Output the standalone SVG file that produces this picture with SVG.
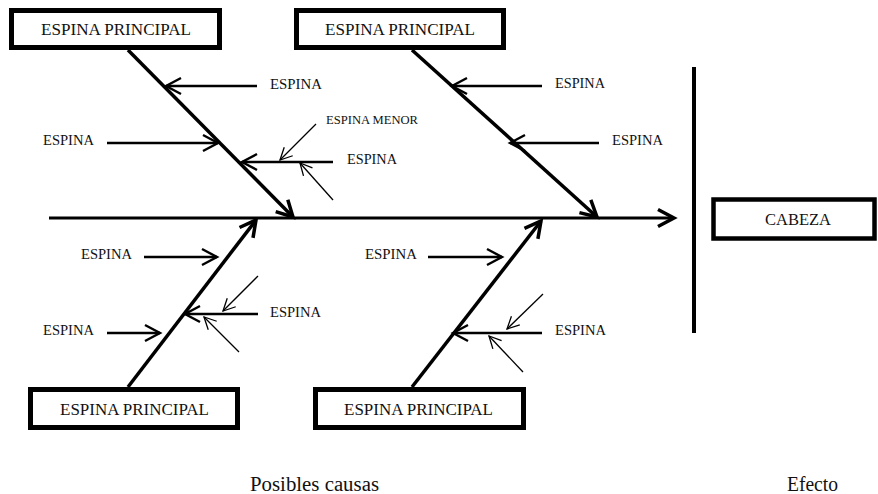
<svg xmlns="http://www.w3.org/2000/svg" width="878" height="494" viewBox="0 0 878 494">
  <style>
    text { font-family: "Liberation Serif", "Times New Roman", serif; fill: #111; }
    .box { fill: #fff; stroke: #000; stroke-width: 5; }
    .head-label { font-size: 17px; text-anchor: middle; }
    .spine-label { font-size: 15px; }
    .minor-label { font-size: 13.5px; }
    .footer { font-size: 20px; }
    .axis { stroke: #000; stroke-width: 3; fill: none; }
    .spine { stroke: #000; stroke-width: 3.5; fill: none; marker-end: url(#head-thick); }
    .bone { stroke: #000; stroke-width: 2.4; fill: none; marker-end: url(#head-mid); }
    .minor { stroke: #000; stroke-width: 1.3; fill: none; marker-end: url(#head-thin); }
  </style>
  <defs>
    <marker id="head-thick" viewBox="-20 -12 24 24" refX="0" refY="0" markerWidth="24" markerHeight="24" markerUnits="userSpaceOnUse" orient="auto" overflow="visible">
      <path d="M-16,-8.5 L0,0 L-16,8.5" fill="none" stroke="#000" stroke-width="3.5"/>
    </marker>
    <marker id="head-mid" viewBox="-20 -12 24 24" refX="0" refY="0" markerWidth="24" markerHeight="24" markerUnits="userSpaceOnUse" orient="auto" overflow="visible">
      <path d="M-15,-8 L0,0 L-15,8" fill="none" stroke="#000" stroke-width="2.4"/>
    </marker>
    <marker id="head-thin" viewBox="-20 -12 24 24" refX="0" refY="0" markerWidth="24" markerHeight="24" markerUnits="userSpaceOnUse" orient="auto" overflow="visible">
      <path d="M-12,-6 L0,0 L-12,6" fill="none" stroke="#000" stroke-width="1.3"/>
    </marker>
  </defs>

  <rect width="878" height="494" fill="#fff"/>

  <!-- connectors: backbone, main spines, bones and minor bones -->
  <g id="connectors">
    <line class="axis" x1="49" y1="218" x2="674" y2="218" style="marker-end: url(#head-thick)"/>
    <line x1="694" y1="67" x2="694" y2="333" stroke="#000" stroke-width="4"/>

    <line class="spine" x1="128" y1="50" x2="293" y2="217"/>
    <line class="spine" x1="412" y1="50" x2="597" y2="217"/>
    <line class="spine" x1="128" y1="387" x2="256" y2="220"/>
    <line class="spine" x1="412" y1="387" x2="541" y2="221"/>

    <line class="bone" x1="257" y1="86" x2="166" y2="86"/>
    <line class="bone" x1="107" y1="143" x2="218" y2="143"/>
    <line class="bone" x1="333" y1="162" x2="242" y2="162"/>
    <line class="bone" x1="542" y1="86" x2="452" y2="86"/>
    <line class="bone" x1="599" y1="143" x2="510" y2="143"/>
    <line class="bone" x1="144" y1="257" x2="217" y2="257"/>
    <line class="bone" x1="107" y1="333" x2="160" y2="333"/>
    <line class="bone" x1="258" y1="314" x2="185" y2="314"/>
    <line class="bone" x1="428" y1="257" x2="502" y2="257"/>
    <line class="bone" x1="542" y1="333" x2="453" y2="333"/>

    <line class="minor" x1="316" y1="124" x2="280" y2="160"/>
    <line class="minor" x1="333" y1="200" x2="300" y2="163"/>
    <line class="minor" x1="258" y1="276" x2="223" y2="311"/>
    <line class="minor" x1="239" y1="352" x2="204" y2="317"/>
    <line class="minor" x1="543" y1="294" x2="507" y2="329"/>
    <line class="minor" x1="523" y1="372" x2="489" y2="336"/>
  </g>

  <!-- category boxes -->
  <g id="main-bone-top-left">
    <rect class="box" x="11.5" y="10.5" width="208" height="37"/>
    <text class="head-label" x="116" y="35" textLength="150" lengthAdjust="spacingAndGlyphs">ESPINA PRINCIPAL</text>
  </g>
  <g id="main-bone-top-mid">
    <rect class="box" x="296.5" y="10.5" width="207" height="37"/>
    <text class="head-label" x="400" y="35" textLength="150" lengthAdjust="spacingAndGlyphs">ESPINA PRINCIPAL</text>
  </g>
  <g id="main-bone-bottom-left">
    <rect class="box" x="30.5" y="389.5" width="207" height="38"/>
    <text class="head-label" x="134.5" y="415" textLength="149" lengthAdjust="spacingAndGlyphs">ESPINA PRINCIPAL</text>
  </g>
  <g id="main-bone-bottom-mid">
    <rect class="box" x="315.5" y="389.5" width="208" height="38"/>
    <text class="head-label" x="418.5" y="415" textLength="149" lengthAdjust="spacingAndGlyphs">ESPINA PRINCIPAL</text>
  </g>
  <g id="head">
    <rect class="box" x="713.5" y="199.5" width="161" height="39" style="stroke-width:4.5"/>
    <text class="head-label" x="798" y="225" textLength="66" lengthAdjust="spacingAndGlyphs">CABEZA</text>
  </g>

  <!-- bone labels -->
  <g id="bone-labels">
    <text class="spine-label" x="270" y="88.5" textLength="52" lengthAdjust="spacingAndGlyphs">ESPINA</text>
    <text class="spine-label" x="43" y="145" textLength="51" lengthAdjust="spacingAndGlyphs">ESPINA</text>
    <text class="spine-label" x="347" y="164" textLength="50" lengthAdjust="spacingAndGlyphs">ESPINA</text>
    <text class="spine-label" x="555" y="87.5" textLength="50" lengthAdjust="spacingAndGlyphs">ESPINA</text>
    <text class="spine-label" x="612" y="145" textLength="51" lengthAdjust="spacingAndGlyphs">ESPINA</text>
    <text class="spine-label" x="81" y="259" textLength="51" lengthAdjust="spacingAndGlyphs">ESPINA</text>
    <text class="spine-label" x="43" y="335" textLength="51" lengthAdjust="spacingAndGlyphs">ESPINA</text>
    <text class="spine-label" x="270" y="317" textLength="51" lengthAdjust="spacingAndGlyphs">ESPINA</text>
    <text class="spine-label" x="365" y="259" textLength="52" lengthAdjust="spacingAndGlyphs">ESPINA</text>
    <text class="spine-label" x="555" y="335" textLength="51" lengthAdjust="spacingAndGlyphs">ESPINA</text>
    <text class="minor-label" x="326" y="124" textLength="92" lengthAdjust="spacingAndGlyphs">ESPINA MENOR</text>
  </g>

  <!-- footer captions -->
  <g id="captions">
    <text class="footer" x="250" y="491" textLength="129" lengthAdjust="spacingAndGlyphs">Posibles causas</text>
    <text class="footer" x="787" y="491" textLength="51" lengthAdjust="spacingAndGlyphs">Efecto</text>
  </g>
</svg>
